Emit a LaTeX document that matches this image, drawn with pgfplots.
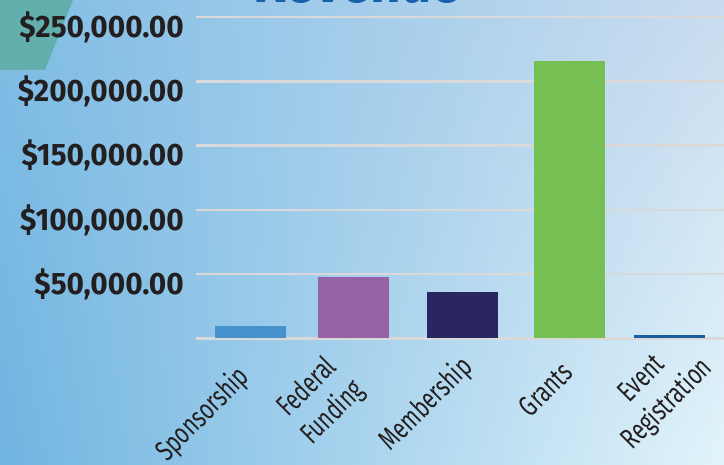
\documentclass[border=0pt]{standalone}
\usepackage{pgfplots}
\pgfplotsset{compat=1.18}
\usetikzlibrary{shadings}
\usepackage{fontspec}
\setmainfont{Fira Sans}
\newfontfamily\tickfont{Fira Sans}[FakeStretch=0.96]
\newfontfamily\labfont{Fira Sans}[FakeStretch=0.72]
\newfontfamily\titlefont{Fira Sans}[FakeStretch=0.9]
\definecolor{txt}{HTML}{231F20}
\definecolor{gridc}{HTML}{D9D9D9}
\definecolor{cSpon}{HTML}{4592CC}
\definecolor{cFed}{HTML}{9762A6}
\definecolor{cMem}{HTML}{2A2661}
\definecolor{cGra}{HTML}{76BF52}
\definecolor{cEve}{HTML}{1A5E9E}
\definecolor{teal}{HTML}{63AFAE}
\definecolor{titleblue}{HTML}{1661AA}
\definecolor{bgUL}{HTML}{80BDE5}
\definecolor{bgUR}{HTML}{C9DCEF}
\definecolor{bgLL}{HTML}{70B4E0}
\definecolor{bgLR}{HTML}{E2F4FB}
\begin{document}
\begin{tikzpicture}
\useasboundingbox (-196pt,-126.5pt) rectangle (528pt,338.5pt);
\clip (-196pt,-126.5pt) rectangle (528pt,338.5pt);
\shade[upper left=bgUL, upper right=bgUR, lower left=bgLL, lower right=bgLR]
  (-196pt,-126.5pt) rectangle (528pt,338.5pt);
\fill[teal] (-196pt,338.5pt) -- (-123pt,338.5pt) -- (-151pt,268.5pt) -- (-196pt,268.5pt) -- cycle;
\node[anchor=base, inner sep=0pt, text=titleblue, font=\titlefont\bfseries\fontsize{59}{59}\selectfont] at (161pt,336pt) {Revenue};
\begin{axis}[
  scale only axis,
  width=528pt, height=321.5pt,
  xmin=0, xmax=528,
  ymin=0, ymax=250000,
  scaled y ticks=false,
  clip=false,
  axis line style={draw=none},
  tick style={draw=none},
  major tick length=0pt,
  xtick=\empty,
  ytick={0,50000,100000,150000,200000,250000},
  yticklabels={{},{\$50,000.00},{\$100,000.00},{\$150,000.00},{\$200,000.00},{\$250,000.00}},
  yticklabel style={anchor=east, inner sep=0pt, xshift=-12pt, yshift=-10pt,
     text=txt, font=\tickfont\bfseries\fontsize{31}{31}\selectfont},
  ymajorgrids,
  grid style={gridc, line width=2.5pt},
  ybar, bar width=71pt,
  every axis plot/.append style={draw=none, bar shift=0pt},
]
\addplot[fill=cSpon, bar shift=0pt] coordinates {(54.5,9700)};
\addplot[fill=cFed, bar shift=0pt] coordinates {(157.5,47900)};
\addplot[fill=cMem, bar shift=0pt] coordinates {(266.5,36200)};
\addplot[fill=cGra, bar shift=0pt] coordinates {(373.5,216100)};
\addplot[fill=cEve, bar shift=0pt] coordinates {(473.5,2800)};
\begin{scope}[every node/.style={rotate=45, anchor=center, align=center, text=txt, inner sep=0pt,
   font=\labfont\fontsize{29}{36}\selectfont}]
\node at ([yshift=-76pt]axis cs:7,0) {Sponsorship};
\node at ([yshift=-62pt]axis cs:124.5,0) {Federal\\Funding};
\node at ([yshift=-66pt]axis cs:230.5,0) {Membership};
\node at ([yshift=-51pt]axis cs:349.5,0) {Grants};
\node at ([yshift=-54pt]axis cs:459.5,0) {Event\\Registration};
\end{scope}
\end{axis}
\end{tikzpicture}
\end{document}
